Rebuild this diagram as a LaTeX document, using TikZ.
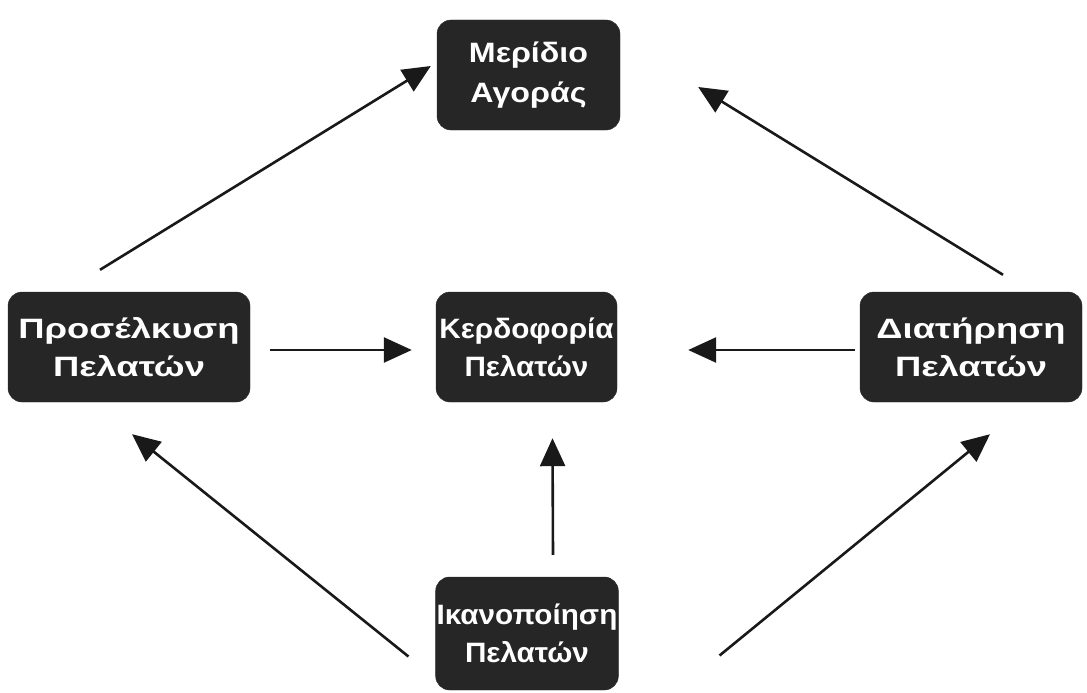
\documentclass[tikz,border=0pt]{standalone}
\usepackage{fontspec}
\setmainfont{Liberation Sans}
\usetikzlibrary{arrows.meta, positioning}

\begin{document}
\begin{tikzpicture}[
    x=1pt, y=-1pt,
    box/.style={rectangle, rounded corners=14pt, draw=black!85, fill=black!85, text=white, font=\fontsize{28}{38}\selectfont\bfseries\addfontfeature{FakeStretch=1.06}, minimum width=181pt, minimum height=110pt, align=center, inner sep=1pt},
    wide/.style={font=\fontsize{28}{38}\selectfont\bfseries\addfontfeature{FakeStretch=1.3}},
    arrow/.style={-{Triangle[length=28pt, width=25pt]}, line width=2.6pt, black!90}
]
    \useasboundingbox (0,0) rectangle (1087,693);

    % Nodes
    \node[box] (centre) at (526.5,347) {Κερδοφορία \\ Πελατών};
    \node[box, minimum width=183pt, font=\fontsize{28}{40}\selectfont\bfseries\addfontfeature{FakeStretch=1.15}] (share) at (528.5,75) {Μερίδιο \\ Αγοράς};
    \node[box, wide, minimum width=242pt] (attract) at (129,347) {Προσέλκυση \\ Πελατών};
    \node[box, wide, minimum width=222pt] (retain) at (971,347) {Διατήρηση \\ Πελατών};
    \node[box, minimum height=113pt] (satisf) at (527,633.5) {Ικανοποίηση \\ Πελατών};

    % Arrows
    \draw[arrow] ([xshift=-29pt, yshift=22pt]attract.north) -- ([xshift=-6pt, yshift=9pt]share.west);
    \draw[arrow] ([xshift=32pt, yshift=17pt]retain.north) -- ([xshift=78pt, yshift=-12pt]share.east);
    \draw[arrow] ([xshift=20pt, yshift=-3pt]attract.east) -- ([xshift=-24pt, yshift=-3pt]centre.west);
    \draw[arrow] ([xshift=-5pt, yshift=-3pt]retain.west) -- ([xshift=71pt, yshift=-3pt]centre.east);
    \draw[arrow] ([xshift=26pt, yshift=22pt]satisf.north) -- ([xshift=26pt, yshift=-36pt]centre.south);
    \draw[arrow] ([xshift=-27pt, yshift=-23pt]satisf.west) -- ([xshift=3pt, yshift=-32pt]attract.south);
    \draw[arrow] ([xshift=101pt, yshift=-22pt]satisf.east) -- ([xshift=19pt, yshift=-32pt]retain.south);
\end{tikzpicture}
\end{document}
